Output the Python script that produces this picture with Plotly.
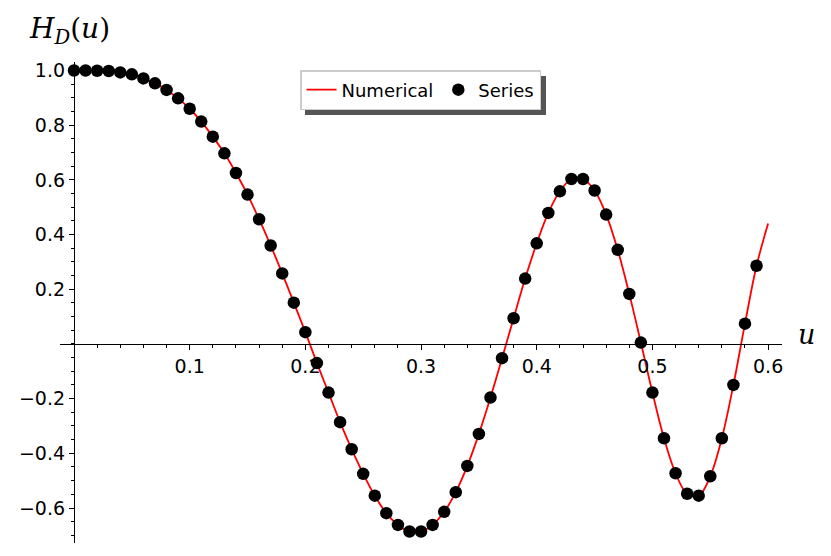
import plotly.graph_objects as go

# ---- data ----
u_series = [round(0.01 * i, 2) for i in range(60)]
h_series = [1.000, 1.000, 0.999, 0.998, 0.993, 0.986, 0.971, 0.953, 0.929, 0.898,
            0.860, 0.813, 0.758, 0.697, 0.625, 0.546, 0.456, 0.360, 0.258, 0.151,
            0.043, -0.070, -0.178, -0.286, -0.385, -0.475, -0.555, -0.619, -0.662, -0.686,
            -0.686, -0.662, -0.614, -0.542, -0.446, -0.329, -0.196, -0.052, 0.094, 0.239,
            0.368, 0.479, 0.558, 0.603, 0.603, 0.561, 0.473, 0.344, 0.183, 0.005,
            -0.178, -0.345, -0.473, -0.548, -0.555, -0.484, -0.345, -0.150, 0.074, 0.286]

u_numerical = u_series + [0.60]
h_numerical = h_series + [0.440]

x_tickvals = [0.1, 0.2, 0.3, 0.4, 0.5, 0.6]
x_ticktext = ["0.1", "0.2", "0.3", "0.4", "0.5", "0.6"]
y_tickvals = [-0.6, -0.4, -0.2, 0.2, 0.4, 0.6, 0.8, 1.0]
y_ticktext = ["\u22120.6", "\u22120.4", "\u22120.2", "0.2", "0.4", "0.6", "0.8", "1.0"]

x_range = [-0.0121, 0.612]
y_range = [-0.728, 1.031]

fig = go.Figure()
fig.add_trace(go.Scatter(x=u_numerical, y=h_numerical, mode="lines", name="Numerical",
                         line=dict(color="#ff0000", width=1.8, shape="spline")))
fig.add_trace(go.Scatter(x=u_series, y=h_series, mode="markers", name="Series",
                         marker=dict(color="black", size=12.5)))

xpos = (0 - x_range[0]) / (x_range[1] - x_range[0])
ypos = (0 - y_range[0]) / (y_range[1] - y_range[0])

# page body has an 8px margin: plot area spans screen x 60..782, y 62..543
PW, PH = 722, 481

def px(x):
    return (x - 60) / PW

def py(y):
    return (543 - y) / PH

tickfont = dict(family="DejaVu Sans", size=19, color="black")
fig.update_layout(
    width=823, height=548,
    margin=dict(l=52, r=49, t=54, b=13),
    plot_bgcolor="white", paper_bgcolor="white",
    showlegend=True,
    legend=dict(orientation="h", x=px(300), y=py(70), xanchor="left", yanchor="top",
                bgcolor="white", bordercolor="#cccccc", borderwidth=1.5,
                font=dict(family="DejaVu Sans", size=18, color="black"),
                itemwidth=30, tracegroupgap=0),
    xaxis=dict(range=x_range, anchor="free", position=ypos, showgrid=False, zeroline=False,
               automargin=False,
               showline=True, linecolor="black", linewidth=1.3,
               tickvals=x_tickvals, ticktext=x_ticktext, ticks="outside", ticklen=5,
               tickwidth=1.2, tickcolor="black", tickfont=tickfont,
               minor=dict(dtick=0.02, tick0=0, ticks="outside", ticklen=3, tickcolor="black", tickwidth=1)),
    yaxis=dict(range=y_range, anchor="free", position=xpos, showgrid=False, zeroline=False,
               automargin=False,
               showline=True, linecolor="black", linewidth=1.3,
               tickvals=y_tickvals, ticktext=y_ticktext, ticks="outside", ticklen=5,
               tickwidth=1.2, tickcolor="black", tickfont=tickfont,
               minor=dict(dtick=0.05, tick0=0, ticks="outside", ticklen=3, tickcolor="black", tickwidth=1)),
)

# legend shadow
fig.add_shape(type="rect", xref="paper", yref="paper",
              x0=px(305), x1=px(546), y0=py(115), y1=py(76),
              fillcolor="#555555", line=dict(width=0), layer="above")

fig.add_annotation(text="<i>H</i><sub><i>D</i></sub>(<i>u</i>)", xref="paper", yref="paper",
                   x=px(27), y=py(30), xanchor="left", yanchor="middle",
                   showarrow=False, font=dict(family="DejaVu Serif", size=28, color="black"))
fig.add_annotation(text="<i>u</i>", xref="paper", yref="paper",
                   x=px(796), y=py(334), xanchor="left", yanchor="middle",
                   showarrow=False, font=dict(family="DejaVu Serif", size=27, color="black"))

fig.write_html("out.html")
